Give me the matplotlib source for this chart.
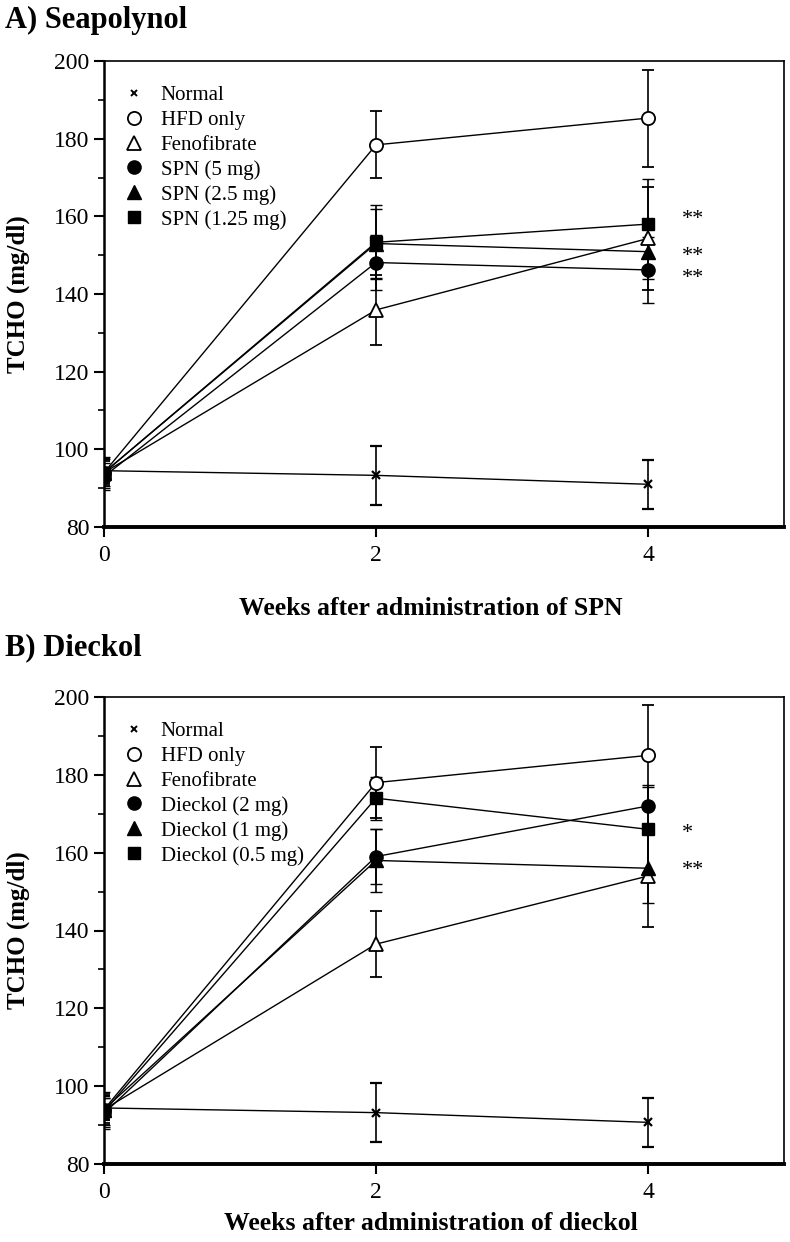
import matplotlib
matplotlib.use("Agg")
import matplotlib.pyplot as plt
from matplotlib.lines import Line2D
from matplotlib.ticker import MultipleLocator

plt.rcParams['font.family'] = ['Liberation Serif', 'DejaVu Serif']

weeks = [0, 2, 4]

# panel A: seapolynol
labels_a = ["Normal", "HFD only", "Fenofibrate", "SPN (5 mg)", "SPN (2.5 mg)", "SPN (1.25 mg)"]
normal_a = [94.5, 93.3, 91.0]
normal_a_err = [3.0, 7.6, 6.3]
hfd_a = [94.0, 178.4, 185.3]
hfd_a_err = [3.5, 8.6, 12.5]
feno_a = [94.0, 135.9, 154.3]
feno_a_err = [3.0, 9.0, 13.2]
spn5_a = [93.0, 148.1, 146.2]
spn5_a_err = [3.5, 7.0, 8.5]
spn25_a = [94.0, 153.0, 150.9]
spn25_a_err = [4.0, 9.0, 7.0]
spn125_a = [94.0, 153.3, 158.0]
spn125_a_err = [3.5, 9.5, 11.5]
stars_a = ["**", "**", "**"]
stars_a_y = [160.6, 151.2, 145.4]

# panel B: dieckol
labels_b = ["Normal", "HFD only", "Fenofibrate", "Dieckol (2 mg)", "Dieckol (1 mg)", "Dieckol (0.5 mg)"]
normal_b = [94.4, 93.2, 90.7]
normal_b_err = [3.0, 7.5, 6.3]
hfd_b = [94.0, 178.0, 185.0]
hfd_b_err = [4.0, 9.2, 13.0]
feno_b = [94.0, 136.5, 154.0]
feno_b_err = [3.5, 8.5, 13.0]
dk2_b = [93.0, 159.0, 172.0]
dk2_b_err = [4.0, 7.0, 5.5]
dk1_b = [94.0, 158.0, 156.0]
dk1_b_err = [4.5, 8.0, 9.0]
dk05_b = [93.5, 174.0, 166.0]
dk05_b_err = [3.5, 5.5, 11.0]
stars_b = ["*", "**"]
stars_b_y = [166.4, 156.9]

# marker style for each group, same order in both panels
styles = [
    dict(marker='x', ms=5.5, mfc='black', mew=1.6),
    dict(marker='o', ms=9.5, mfc='white', mew=1.3),
    dict(marker='^', ms=9.5, mfc='white', mew=1.3),
    dict(marker='o', ms=9.5, mfc='black', mew=1.0),
    dict(marker='^', ms=9.5, mfc='black', mew=1.0),
    dict(marker='s', ms=8.5, mfc='black', mew=1.0),
]


def draw_panel(ax, series, errs, labels, star_txt, star_y, xlabel, xlab_y):
    for vals, err, st in zip(series, errs, styles):
        ax.errorbar(weeks, vals, yerr=err, color='black', lw=1.0, elinewidth=1.2,
                    capsize=4, capthick=1.6, mec='black', zorder=3, **st)
    for txt, y in zip(star_txt, star_y):
        ax.text(4.25, y - 1.5, txt, fontsize=16, ha='left', va='center')

    ax.set_xlim(0, 5)
    ax.set_ylim(80, 200)
    ax.set_xticks([0, 2, 4])
    ax.yaxis.set_major_locator(MultipleLocator(20))
    ax.yaxis.set_minor_locator(MultipleLocator(10))
    ax.tick_params(axis='both', which='major', labelsize=17, length=7, width=1.5, direction='out')
    ax.tick_params(axis='y', which='minor', length=4, width=1.2, direction='out')
    ax.tick_params(axis='x', pad=6)
    for s in ['top', 'right']:
        ax.spines[s].set_linewidth(1.2)
    ax.spines['left'].set_linewidth(1.8)
    ax.spines['bottom'].set_linewidth(2.8)

    ax.set_ylabel("TCHO (mg/dl)", fontsize=18, fontweight='bold')
    ax.yaxis.set_label_coords(-0.109, 0.5)
    ax.set_xlabel(xlabel, fontsize=18.5, fontweight='bold')
    ax.xaxis.set_label_coords(0.481, xlab_y)

    handles = [Line2D([], [], ls='none', color='black', mec='black', **st) for st in styles]
    handles[0].set_markersize(5)
    handles[0].set_markeredgewidth(1.4)
    leg = ax.legend(handles, labels, loc='upper left', bbox_to_anchor=(0.016, 0.965),
                    frameon=False, fontsize=15, handlelength=1.0, handletextpad=0.8,
                    labelspacing=0.25, borderaxespad=0)
    return leg


fig = plt.figure(figsize=(7.9, 12.42), dpi=100)

ax_a = fig.add_axes([104 / 790, 1 - 527 / 1242, 680 / 790, 466 / 1242])
draw_panel(ax_a,
           [normal_a, hfd_a, feno_a, spn5_a, spn25_a, spn125_a],
           [normal_a_err, hfd_a_err, feno_a_err, spn5_a_err, spn25_a_err, spn125_a_err],
           labels_a, stars_a, stars_a_y,
           "Weeks after administration of SPN", -0.150)

ax_b = fig.add_axes([104 / 790, 1 - 1164 / 1242, 680 / 790, 467 / 1242])
draw_panel(ax_b,
           [normal_b, hfd_b, feno_b, dk2_b, dk1_b, dk05_b],
           [normal_b_err, hfd_b_err, feno_b_err, dk2_b_err, dk1_b_err, dk05_b_err],
           labels_b, stars_b, stars_b_y,
           "Weeks after administration of dieckol", -0.103)

fig.text(0.006, 1 - 20 / 1242, "A) Seapolynol", fontsize=22, fontweight='bold', va='center')
fig.text(0.006, 1 - 648 / 1242, "B) Dieckol", fontsize=22, fontweight='bold', va='center')

fig.savefig("out.png", dpi=100)
